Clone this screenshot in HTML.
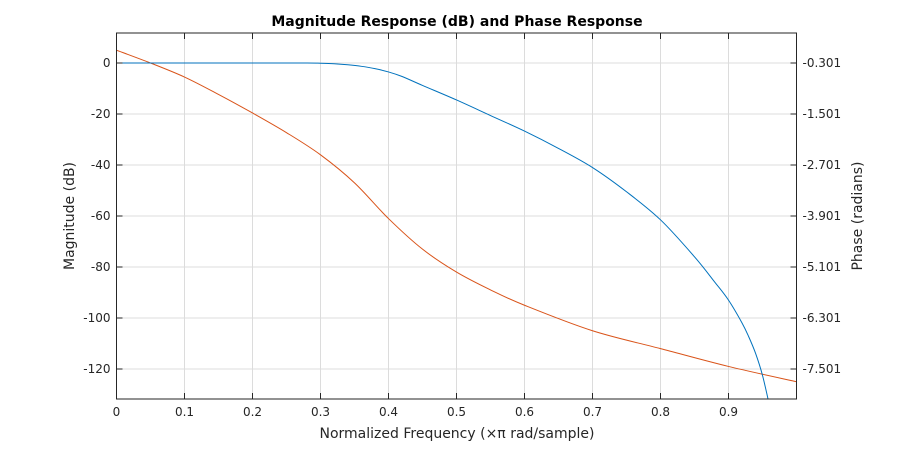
<!DOCTYPE html>
<html><head><meta charset="utf-8"><style>
body{margin:0;background:#fff;}
svg text{font-family:"DejaVu Sans","Liberation Sans",sans-serif;}
</style></head><body>
<svg id="chart" width="900" height="448" viewBox="0 0 900 448" xmlns="http://www.w3.org/2000/svg">
<rect width="900" height="448" fill="#fff"/>
<defs><clipPath id="clip"><rect x="116.5" y="33" width="680" height="366"/></clipPath></defs>
<g id="grid"></g>
<g id="series" clip-path="url(#clip)"></g>
<rect x="116.5" y="33" width="680" height="366" fill="none" stroke="#262626" stroke-width="1"/>
<g id="axes"></g>
<text x="457" y="26" text-anchor="middle" font-size="14" font-weight="bold" fill="#000">Magnitude Response (dB) and Phase Response</text>
<text x="457" y="438" text-anchor="middle" font-size="14" fill="#262626">Normalized Frequency (×π rad/sample)</text>
<text transform="translate(74,216) rotate(-90)" text-anchor="middle" font-size="14" fill="#262626">Magnitude (dB)</text>
<text transform="translate(862,216) rotate(-90)" text-anchor="middle" font-size="14" fill="#262626">Phase (radians)</text>
</svg>
<script>
const xTicks=[0,0.1,0.2,0.3,0.4,0.5,0.6,0.7,0.8,0.9];
const yTicks=[0,-20,-40,-60,-80,-100,-120];
const phaseTicks=[-0.301,-1.501,-2.701,-3.901,-5.101,-6.301,-7.501];
const magFreq=[0,0.1,0.2,0.28,0.3,0.32,0.34,0.36,0.38,0.4,0.42,0.45,0.5,0.55,0.6,0.65,0.7,0.75,0.8,0.85,0.88,0.9,0.92,0.93,0.94,0.95,0.96];
const magDb=[0,0,0,0,-0.1,-0.3,-0.7,-1.3,-2.2,-3.5,-5.3,-8.8,-14.5,-20.6,-26.7,-33.5,-41,-50.5,-61.5,-76,-86,-93,-102,-107.5,-114,-122.5,-134];
const phFreq=[0,0.05,0.1,0.15,0.2,0.25,0.3,0.35,0.4,0.45,0.5,0.55,0.6,0.7,0.8,0.9,1.0];
const phRad=[0,-0.301,-0.631,-1.04,-1.477,-1.94,-2.461,-3.121,-3.961,-4.681,-5.221,-5.64,-6.001,-6.601,-7.021,-7.441,-7.801];

const L=116.5,R=796.5,T=33,B=399;
const x=v=>L+v*(R-L);
const y=db=>63-db*2.55;
const yp=p=>y((p+0.301)/0.06);
const ns="http://www.w3.org/2000/svg";
function mk(tag,attrs,parent){const e=document.createElementNS(ns,tag);for(const k in attrs)e.setAttribute(k,attrs[k]);document.getElementById(parent).appendChild(e);return e;}
xTicks.forEach(v=>{
 const g=mk('line',{x1:x(v),x2:x(v),y1:T,y2:B,stroke:'#dcdcdc','stroke-width':1},'grid');
 
 
 mk('line',{x1:x(v),x2:x(v),y1:B,y2:B-6,stroke:'#262626'},'axes');
 mk('line',{x1:x(v),x2:x(v),y1:T,y2:T+6,stroke:'#262626'},'axes');
 const t=mk('text',{x:x(v),y:B+17,'text-anchor':'middle','font-size':12,fill:'#262626'},'axes');
 t.textContent=v===0?'0':v.toFixed(1);
 
 
});
yTicks.forEach(v=>{
 const g=mk('line',{x1:L,x2:R,y1:y(v),y2:y(v),stroke:'#dcdcdc','stroke-width':1},'grid');
 
 
 mk('line',{x1:L,x2:L+6,y1:y(v),y2:y(v),stroke:'#262626'},'axes');
 const t=mk('text',{x:L-6,y:y(v)+4,'text-anchor':'end','font-size':12,fill:'#262626'},'axes');
 t.textContent=v;
 
 
});
phaseTicks.forEach(v=>{
 mk('line',{x1:R-6,x2:R,y1:yp(v),y2:yp(v),stroke:'#262626'},'axes');
 const t=mk('text',{x:R+6,y:yp(v)+4,'text-anchor':'start','font-size':12,fill:'#262626'},'axes');
 t.textContent=v.toFixed(3);
 
 
});
function smooth(pts){let d='M'+pts[0][0]+','+pts[0][1];for(let i=0;i<pts.length-1;i++){const p0=pts[i-1]||pts[i],p1=pts[i],p2=pts[i+1],p3=pts[i+2]||p2;
 d+=' C'+(p1[0]+(p2[0]-p0[0])/6)+','+(p1[1]+(p2[1]-p0[1])/6)+' '+(p2[0]-(p3[0]-p1[0])/6)+','+(p2[1]-(p3[1]-p1[1])/6)+' '+p2[0]+','+p2[1];}return d;}
const ph=mk('path',{d:smooth(phFreq.map((f,i)=>[x(f),yp(phRad[i])])),fill:'none',stroke:'#d95319','stroke-width':1},'series');


const mg=mk('path',{d:smooth(magFreq.map((f,i)=>[x(f),y(magDb[i])])),fill:'none',stroke:'#0072bd','stroke-width':1},'series');


</script>
</body></html>
